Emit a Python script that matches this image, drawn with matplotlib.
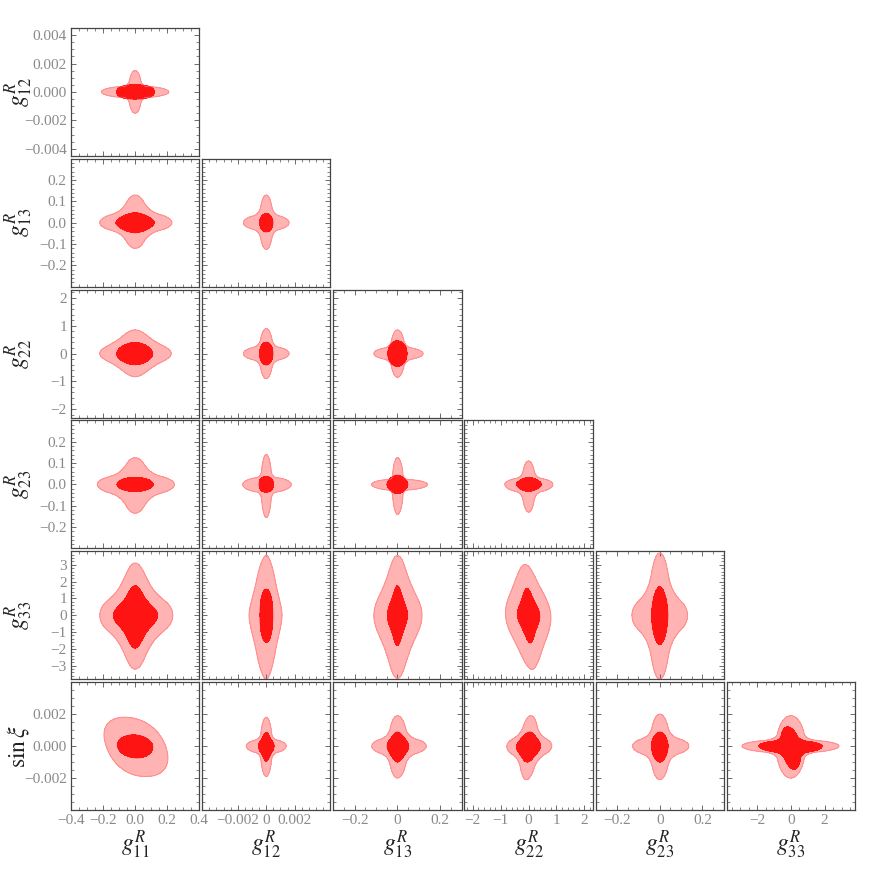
import numpy as np
import matplotlib

matplotlib.use('Agg')  # no display
import matplotlib.pyplot as plt
from matplotlib.ticker import FixedLocator, FixedFormatter, MultipleLocator

plt.rcParams['mathtext.fontset'] = 'stix'
plt.rcParams['font.family'] = ['Liberation Serif', 'DejaVu Serif']

M = '\u2212'

# parameters (column order of the corner plot, last one only on y)
params = ['g11', 'g12', 'g13', 'g22', 'g23', 'g33', 'sinxi']
axis_labels = {
    'g11': r'$g^{R}_{11}$', 'g12': r'$g^{R}_{12}$', 'g13': r'$g^{R}_{13}$',
    'g22': r'$g^{R}_{22}$', 'g23': r'$g^{R}_{23}$', 'g33': r'$g^{R}_{33}$',
    'sinxi': r'$\sin\xi$',
}
half_range = {'g11': 0.4, 'g12': 0.0045, 'g13': 0.3, 'g22': 2.3,
              'g23': 0.3, 'g33': 3.8, 'sinxi': 0.004}

x_ticks = {
    'g11': [-0.4, -0.2, 0, 0.2, 0.4],
    'g12': [-0.002, 0, 0.002],
    'g13': [-0.2, 0, 0.2],
    'g22': [-2, -1, 0, 1, 2],
    'g23': [-0.2, 0, 0.2],
    'g33': [-2, 0, 2],
}
x_tick_labels = {
    'g11': [M + '0.4', M + '0.2', '0.0', '0.2', '0.4'],
    'g12': [M + '0.002', '0', '0.002'],
    'g13': [M + '0.2', '0', '0.2'],
    'g22': [M + '2', M + '1', '0', '1', '2'],
    'g23': [M + '0.2', '0', '0.2'],
    'g33': [M + '2', '0', '2'],
}
x_minor = {'g11': 0.05, 'g12': 0.0005, 'g13': 0.05, 'g22': 0.2,
           'g23': 0.05, 'g33': 0.5}

y_ticks = {
    'g12': [-0.004, -0.002, 0, 0.002, 0.004],
    'g13': [-0.2, -0.1, 0, 0.1, 0.2],
    'g22': [-2, -1, 0, 1, 2],
    'g23': [-0.2, -0.1, 0, 0.1, 0.2],
    'g33': [-3, -2, -1, 0, 1, 2, 3],
    'sinxi': [-0.002, 0, 0.002],
}
y_tick_labels = {
    'g12': [M + '0.004', M + '0.002', '0.000', '0.002', '0.004'],
    'g13': [M + '0.2', M + '0.1', '0.0', '0.1', '0.2'],
    'g22': [M + '2', M + '1', '0', '1', '2'],
    'g23': [M + '0.2', M + '0.1', '0.0', '0.1', '0.2'],
    'g33': [M + '3', M + '2', M + '1', '0', '1', '2', '3'],
    'sinxi': [M + '0.002', '0.000', '0.002'],
}
y_minor = {'g12': 0.0005, 'g13': 0.02, 'g22': 0.2, 'g23': 0.02,
           'g33': 0.2, 'sinxi': 0.0005}

# panels, row by row: (y param index, x param index)
pairs = [(r, c) for r in range(1, 7) for c in range(r)]

# contour extents: (x left, x right, y down, y up)
outer_ext = [
    (0.21, 0.21, 0.0015, 0.0015),
    (0.22, 0.23, 0.12, 0.13),
    (0.0016, 0.0016, 0.125, 0.13),
    (0.22, 0.225, 0.83, 0.85),
    (0.0016, 0.0016, 0.9, 0.9),
    (0.11, 0.12, 0.85, 0.85),
    (0.235, 0.245, 0.135, 0.125),
    (0.00165, 0.00175, 0.155, 0.14),
    (0.12, 0.14, 0.14, 0.125),
    (0.85, 0.87, 0.13, 0.11),
    (0.22, 0.235, 3.2, 3.1),
    (0.0012, 0.0011, 3.85, 3.6),
    (0.11, 0.115, 3.75, 3.55),
    (0.83, 0.80, 3.2, 3.0),
    (0.13, 0.13, 3.8, 3.7),
    (0.18, 0.19, 0.0019, 0.0018),
    (0.0014, 0.0014, 0.0019, 0.0018),
    (0.12, 0.135, 0.0020, 0.0019),
    (0.78, 0.83, 0.0021, 0.0019),
    (0.127, 0.136, 0.0021, 0.0020),
    (2.9, 2.85, 0.0020, 0.0019),
]
inner_ext = [
    (0.115, 0.12, 0.0005, 0.0005),
    (0.12, 0.12, 0.047, 0.047),
    (0.00047, 0.00047, 0.043, 0.043),
    (0.115, 0.11, 0.40, 0.40),
    (0.00047, 0.00047, 0.41, 0.41),
    (0.045, 0.045, 0.46, 0.46),
    (0.113, 0.113, 0.033, 0.033),
    (0.0005, 0.0005, 0.036, 0.036),
    (0.049, 0.049, 0.043, 0.043),
    (0.44, 0.47, 0.033, 0.033),
    (0.135, 0.14, 1.95, 1.75),
    (0.00044, 0.00046, 1.6, 1.55),
    (0.047, 0.047, 1.8, 1.75),
    (0.4, 0.4, 1.65, 1.6),
    (0.038, 0.038, 1.75, 1.7),
    (0.11, 0.11, 0.00074, 0.0007),
    (0.00055, 0.00055, 0.00095, 0.00085),
    (0.048, 0.053, 0.0010, 0.00088),
    (0.43, 0.43, 0.0010, 0.00088),
    (0.039, 0.039, 0.0010, 0.00088),
    (1.9, 1.85, 0.00145, 0.0012),
]
# shape of each contour: arm thickness (horizontal, vertical) as fraction of extent
outer_arms = [
    (0.28, 0.2), (0.4, 0.35), (0.3, 0.3), (0.5, 0.45), (0.3, 0.3), (0.28, 0.3),
    (0.4, 0.35), (0.25, 0.22), (0.2, 0.2), (0.3, 0.28), (0.45, 0.4), (0.5, 0.8),
    (0.45, 0.5), (0.55, 0.5), (0.35, 0.4), (1, 1), (0.25, 0.3), (0.3, 0.35),
    (0.35, 0.4), (0.3, 0.35), (0.22, 0.3),
]
inner_arms = [
    (1, 1), (1, 1), (1, 1), (1, 1), (1, 1), (1, 1),
    (1, 1), (1, 1), (1, 1), (1, 1), (0.45, 0.45), (1, 1),
    (0.5, 0.5), (0.5, 0.5), (1, 1), (1, 1), (0.5, 0.5), (0.55, 0.55),
    (0.55, 0.55), (1, 1), (0.3, 0.3),
]
# (exponent, smoothing, tilt)
outer_form = [
    (2, 0.9, 0), (2, 1.0, 0), (2, 1.0, 0), (2, 1.0, 0), (2, 1.0, 0), (2, 1.0, 0),
    (2, 1.0, 0), (2, 0.9, 0), (2, 0.8, 0), (2, 1.0, 0), (2, 1.0, 0), (1.6, 0.4, 0),
    (2, 1.0, 0), (2, 1.0, 0.15), (2, 1.0, 0), (2.2, 0, 0.35), (2, 0.9, 0), (2, 1.0, 0),
    (2, 1.0, -0.1), (2, 1.0, 0), (2, 0.9, 0),
]
inner_form = [
    (2.4, 0, 0), (1.6, 0, 0), (2, 0, 0), (1.8, 0, 0), (2, 0, 0), (2, 0, 0),
    (2, 0, 0), (2.5, 0, 0), (1.7, 0, 0), (1.6, 0, 0), (2, 1.0, 0), (2.2, 0, 0),
    (2, 1.0, 0), (2, 1.0, 0.15), (1.8, 0, 0), (2, 0, 0.1), (2, 1.0, 0), (2, 1.0, 0),
    (2, 1.0, -0.1), (1.8, 0, 0), (2, 0.9, 0.1),
]

OUTER_FILL = '#ffb3b3'
OUTER_EDGE = '#ff8f8f'
INNER_FILL = '#ff1414'


def smin(a, b, k):
    if k <= 0:
        return np.minimum(a, b)
    h = np.clip(k - np.abs(a - b), 0, None) / k
    return np.minimum(a, b) - h * h * k / 4


def region_field(X, Y, ext, arms, form):
    # union of a horizontal and a vertical blob, blended in radius units
    xl, xh, yl, yh = ext
    ah, av = arms
    q, k, tilt = form
    u = np.where(X > 0, X / xh, X / xl)
    v = np.where(Y > 0, Y / yh, Y / yl)
    u = u + tilt * v
    rh = (np.abs(u) ** q + np.abs(v / ah) ** q) ** (1 / q)
    rv = (np.abs(u / av) ** q + np.abs(v) ** q) ** (1 / q)
    level = 0.5 * (smin(1.0, 1 / av, k) + smin(1 / ah, 1.0, k))
    return smin(rh, rv, k), level


fig = plt.figure(figsize=(8.72, 8.72), dpi=100)
gs = fig.add_gridspec(6, 6, left=71 / 872, right=855 / 872,
                      top=1 - 28 / 872, bottom=1 - 810 / 872,
                      wspace=0.0234, hspace=0.0234)

for n, (r, c) in enumerate(pairs):
    xname, yname = params[c], params[r]
    ax = fig.add_subplot(gs[r - 1, c])
    xr, yr = half_range[xname], half_range[yname]
    xs = np.linspace(-xr, xr, 400)
    ys = np.linspace(-yr, yr, 400)
    X, Y = np.meshgrid(xs, ys)

    F, lev = region_field(X, Y, outer_ext[n], outer_arms[n], outer_form[n])
    ax.contourf(X, Y, F, levels=[F.min() - 1, lev], colors=[OUTER_FILL])
    ax.contour(X, Y, F, levels=[lev], colors=[OUTER_EDGE], linewidths=0.8)
    F, lev = region_field(X, Y, inner_ext[n], inner_arms[n], inner_form[n])
    ax.contourf(X, Y, F, levels=[F.min() - 1, lev], colors=[INNER_FILL])
    ax.contour(X, Y, F, levels=[lev], colors=[INNER_FILL], linewidths=0.6)

    ax.set_xlim(-xr, xr)
    ax.set_ylim(-yr, yr)
    ax.xaxis.set_major_locator(FixedLocator(x_ticks[xname]))
    ax.xaxis.set_major_formatter(FixedFormatter(x_tick_labels[xname]))
    ax.xaxis.set_minor_locator(MultipleLocator(x_minor[xname]))
    ax.yaxis.set_major_locator(FixedLocator(y_ticks[yname]))
    ax.yaxis.set_major_formatter(FixedFormatter(y_tick_labels[yname]))
    ax.yaxis.set_minor_locator(MultipleLocator(y_minor[yname]))

    ax.tick_params(which='both', direction='in', top=True, right=True,
                   labelbottom=(r == 6), labelleft=(c == 0),
                   color='#555555', labelcolor='#8a8a8a', labelsize=11, pad=3)
    ax.tick_params(which='major', length=3.5, width=0.6)
    ax.tick_params(which='minor', length=2, width=0.5)
    for sp in ax.spines.values():
        sp.set_color('#444444')
        sp.set_linewidth(0.9)

# axis titles
for c in range(6):
    pos = gs[5, c].get_position(fig)
    fig.text((pos.x0 + pos.x1) / 2, 1 - 845 / 872, axis_labels[params[c]],
             ha='center', va='center', fontsize=17, color='#222222')
for r in range(1, 7):
    pos = gs[r - 1, 0].get_position(fig)
    fig.text(19 / 872, (pos.y0 + pos.y1) / 2, axis_labels[params[r]],
             ha='center', va='center', rotation=90, fontsize=17, color='#222222')

fig.savefig('out.png', dpi=100)
